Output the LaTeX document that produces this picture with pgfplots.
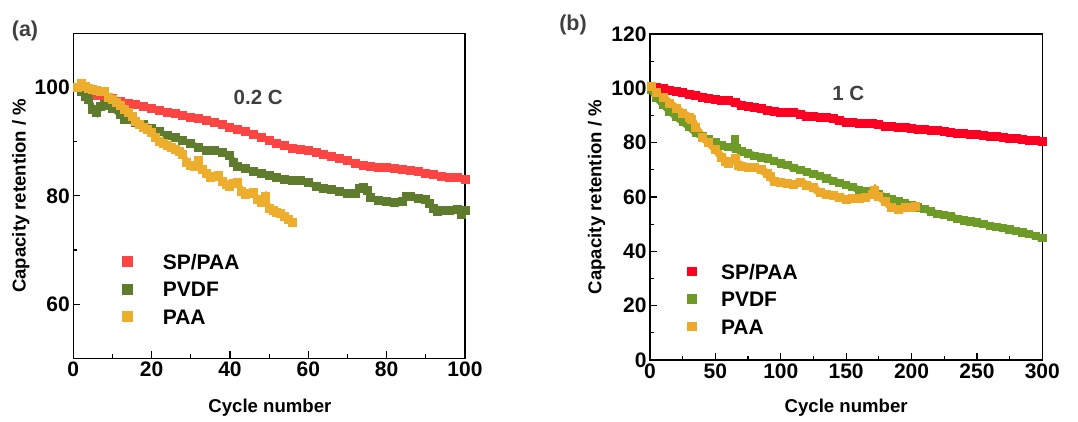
\documentclass[border=0pt]{standalone}
\usepackage{fontspec}
\setmainfont{Liberation Sans}
\usepackage{pgfplots}
\pgfplotsset{compat=1.18}
\definecolor{redA}{RGB}{255,68,68}
\definecolor{greenA}{RGB}{95,123,45}
\definecolor{orangeA}{RGB}{238,174,45}
\definecolor{redB}{RGB}{255,0,34}
\definecolor{greenB}{RGB}{110,154,39}
\definecolor{orangeB}{RGB}{237,170,42}
\definecolor{annot}{RGB}{64,64,64}
\newcommand{\lblfont}{\fontsize{18.6}{18.6}\selectfont\bfseries}
\pgfplotsset{
  myaxis/.style={
    scale only axis,
    axis line style={line width=1.3pt},
    tick style={line width=1.2pt, black},
    major tick length=7pt, minor tick length=4pt,
    tick align=inside, xtick pos=bottom, ytick pos=left,
    minor x tick num=1, minor y tick num=1,
    /pgf/number format/assume math mode=true,
    tick label style={font=\fontsize{21}{21}\selectfont\bfseries},
    legend style={draw=none, fill=none, font=\fontsize{21}{21}\selectfont\bfseries,
      inner sep=0pt, row sep=10.5pt,
      nodes={inner sep=1pt, text height=15pt, text depth=0pt}},
    legend cell align=left,
  },
}
\begin{document}
\begin{tikzpicture}
\path[use as bounding box] (0pt,0pt) rectangle (1078pt,421pt);
\node[font=\fontsize{21.5}{21.5}\selectfont\bfseries, text=annot] at (25pt,390pt) {(a)};
\node[font=\fontsize{21.5}{21.5}\selectfont\bfseries, text=annot] at (573pt,396pt) {(b)};
\begin{axis}[myaxis,
  at={(73.3pt,62.7pt)}, anchor=south west,
  width=391.7pt, height=325pt,
  xmin=0, xmax=100, ymin=50, ymax=110,
  xtick={0,20,...,100}, ytick={60,80,100},
  xlabel={Cycle number}, ylabel={Capacity retention / \%},
  every axis y label/.style={at={(axis description cs:-0.134,0.5)}, rotate=90, anchor=center, font=\lblfont},
  every axis x label/.style={at={(axis description cs:0.502,-0.153)}, anchor=center, font=\lblfont},
  legend style={at={(axis description cs:0.126,0.324)}, anchor=north west},
  legend image code/.code={\path[draw=none, fill=none] (-5pt,0pt) -- (34pt,0pt);
      \draw[#1, draw=none, mark size=5pt] plot coordinates {(0pt,0pt)};},
]
\addplot[redA, line width=6pt, mark=square*, mark size=4pt, mark options={line width=0pt}] coordinates {
(1,100) (2,99.6) (3,99.2) (4,98.9) (5,98.7) (6,98.6) (8,98.3) (10,97.9) (12,97.4) (14,97.1)
(16,96.8) (18,96.5) (20,96.2) (22,95.8) (24,95.4) (26,95.2) (28,94.9) (30,94.5) (32,94.3) (34,93.9)
(36,93.5) (38,93.1) (40,92.7) (42,92.3) (44,91.8) (46,91.3) (48,90.8) (50,90.2) (52,89.6) (54,89.2)
(56,88.8) (58,88.6) (60,88.4) (62,88.0) (64,87.7) (66,87.2) (68,86.8) (70,86.5) (72,86.0) (74,85.6)
(76,85.4) (78,85.3) (80,85.2) (82,85.0) (84,84.8) (86,84.7) (88,84.5) (90,84.2) (92,83.9) (94,83.6)
(96,83.4) (98,83.3) (100,83.1)};
\addlegendentry{SP/PAA}
\addplot[greenA, line width=6pt, mark=square*, mark size=4pt, mark options={line width=0pt}] coordinates {
(1,100) (2,99.2) (3,98.4) (4,97.8) (5,96.0) (6,95.3) (7,96.5) (8,96.8) (9,96.6) (10,96.2)
(12,95.0) (13,94.0) (14,94.0) (16,93.6) (18,93.1) (20,92.5) (22,91.8) (24,91.2) (26,90.7) (28,90.2)
(30,89.7) (32,88.9) (34,88.4) (36,88.3) (38,88.0) (40,87.4) (41,86.2) (42,85.4) (44,85.0) (46,84.5)
(48,84.2) (50,83.8) (52,83.4) (54,83.0) (56,82.8) (58,82.8) (60,82.4) (62,81.8) (64,81.4) (66,81.1)
(68,80.8) (70,80.4) (72,80.4) (73,81.4) (74,81.5) (75,81.0) (76,79.6) (78,79.2) (80,78.9) (82,78.8)
(84,79.0) (85,79.8) (86,79.9) (88,79.5) (90,79.4) (91,78.6) (92,77.6) (93,77.1) (94,77.2) (96,77.3)
(98,77.4) (99,76.6) (100,77.2)};
\addlegendentry{PVDF}
\addplot[orangeA, line width=6pt, mark=square*, mark size=4pt, mark options={line width=0pt}] coordinates {
(1,100) (2,100.8) (3,100.1) (4,99.8) (5,99.6) (6,99.5) (7,99.2) (8,99.2) (9,98.2) (10,97.8)
(11,97.2) (12,96.6) (13,96.0) (14,95.3) (15,94.6) (16,93.8) (17,93.2) (18,92.7) (19,92.2) (20,91.6)
(21,90.8) (22,90.1) (23,89.6) (24,89.2) (25,89.0) (26,88.6) (27,88.2) (28,87.6) (29,86.2) (30,85.6)
(31,85.4) (33,84.8) (34,84.2) (35,83.4) (36,83.6) (37,83.8) (38,82.6) (39,82.0) (40,81.8)
(41,82.2) (42,82.4) (43,80.8) (44,80.2) (45,80.4) (46,80.6) (47,79.4) (48,78.8) (49,79.8) (50,77.6)
(51,77.3) (52,77.0) (53,76.8) (54,76.2) (55,75.6) (56,75.1)};
\addlegendentry{PAA}
\addplot[orangeA, only marks, mark=square*, mark size=4pt, mark options={line width=0pt}, forget plot] coordinates {(32,86.6) (32,85.8)};
\node[font=\fontsize{20.5}{20.5}\selectfont\bfseries, text=annot] at (axis cs:47.2,98.2) {0.2 C};
\end{axis}
\begin{axis}[myaxis,
  at={(650pt,61pt)}, anchor=south west,
  width=392.3pt, height=326pt,
  xmin=0, xmax=300, ymin=0, ymax=120,
  xtick={0,50,...,300}, ytick={0,20,...,120},
  xlabel={Cycle number}, ylabel={Capacity retention / \%},
  every axis y label/.style={at={(axis description cs:-0.136,0.5)}, rotate=90, anchor=center, font=\lblfont},
  every axis x label/.style={at={(axis description cs:0.5,-0.147)}, anchor=center, font=\lblfont},
  legend style={at={(axis description cs:0.0958,0.298)}, anchor=north west},
  legend image code/.code={\path[draw=none, fill=none] (-4.25pt,0pt) -- (28pt,0pt);
      \draw[#1, draw=none, mark size=4.25pt] plot coordinates {(0pt,0pt)};},
]
\addplot[redB, line width=8pt, mark=square*, mark size=4pt, mark options={line width=0pt}] coordinates {
(1,100.5) (5,100.3) (10,100.0) (15,99.3) (20,98.8) (25,98.3) (30,97.9) (35,97.4) (40,96.8) (45,96.2)
(50,95.8) (55,95.6) (60,95.4) (65,94.8) (70,93.8) (75,93.2) (80,92.8) (85,92.4) (90,92.0) (95,91.5)
(100,91.2) (105,91.0) (110,91.1) (115,90.5) (120,89.8) (125,89.6) (130,89.4) (135,89.2) (140,88.8) (145,88.0)
(150,87.6) (155,87.4) (160,87.2) (165,87.0) (170,86.9) (175,86.6) (180,86.0) (185,85.8) (190,85.6) (195,85.4)
(200,85.2) (205,85.0) (210,84.8) (215,84.6) (220,84.4) (225,84.2) (230,83.8) (235,83.4) (240,83.2) (245,83.0)
(250,82.9) (255,82.7) (260,82.4) (265,82.2) (270,81.9) (275,81.7) (280,81.4) (285,81.2) (290,80.9) (295,80.7)
(300,80.4)};
\addlegendentry{SP/PAA}
\addplot[greenB, line width=7pt, mark=square*, mark size=3.7pt, mark options={line width=0pt}] coordinates {
(1,99.5) (5,96.5) (10,94) (15,91.5) (20,89.5) (25,87.6) (30,85.8) (35,83.5) (40,82.3) (45,81.2)
(50,80.0) (55,79.0) (60,78.3) (66,77.8) (70,76.8) (75,76.0) (80,75.2) (85,74.5)
(90,74.2) (95,73.2) (100,72.4) (105,71.8) (110,70.6) (115,70.0) (120,69.2) (125,68.5) (130,67.8) (135,66.8)
(140,66.0) (145,65.2) (150,64.4) (155,63.6) (160,62.6) (165,62.0) (170,61.4) (175,61.0) (180,60.0) (185,59.2)
(190,58.4) (195,57.6) (200,56.8) (205,56.2) (210,55.6) (215,54.6) (220,53.8) (225,53.4) (230,52.8) (235,52.0)
(240,51.4) (245,51.0) (250,50.6) (255,50.0) (260,49.4) (265,48.9) (270,48.5) (275,48.0) (280,47.5) (285,47.0)
(290,46.4) (295,45.6) (300,44.8)};
\addlegendentry{PVDF}
\addplot[orangeB, line width=8pt, mark=square*, mark size=4pt, mark options={line width=0pt}] coordinates {
(1,100.6) (5,98.5) (10,96.6) (15,94.6) (20,92.6) (25,90.8) (30,89.4) (32,88.6) (35,85.5) (40,82.0)
(45,80.0) (50,77.6) (55,74.6) (58,73.0) (60,72.5) (65,74.0) (68,71.6) (70,71.2) (75,71.0) (80,70.8)
(85,70.0) (90,68.6) (92,67.5) (95,65.8) (100,65.2) (105,65.0) (110,64.6) (115,65.4) (120,64.4) (125,63.4)
(130,61.6) (135,61.0) (140,60.4) (145,59.8) (150,59.2) (155,59.4) (160,59.6) (165,60.0) (170,61.0) (172,62.4)
(175,60.2) (180,58.4) (185,56.2) (190,55.4) (195,56.0) (200,56.2) (203,56.6)};
\addlegendentry{PAA}
\addplot[greenB, only marks, mark=square*, mark size=3.7pt, mark options={line width=0pt}, forget plot] coordinates {(65,81.2) (65,80.2)};
\node[font=\fontsize{20.5}{20.5}\selectfont\bfseries, text=annot] at (axis cs:151.6,98.2) {1 C};
\end{axis}
\end{tikzpicture}
\end{document}
